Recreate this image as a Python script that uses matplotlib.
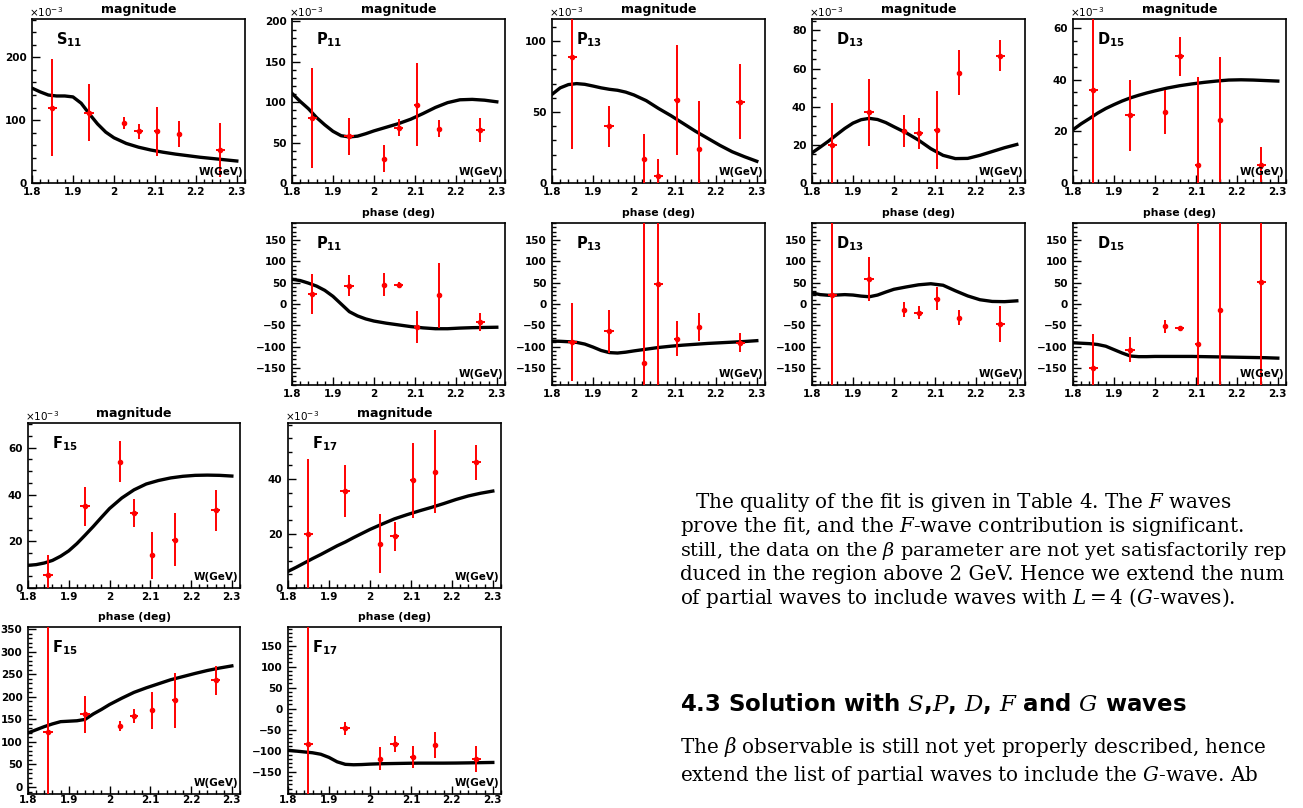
import matplotlib
matplotlib.use('Agg')
import matplotlib.pyplot as plt
from matplotlib.ticker import MultipleLocator, FixedLocator

plt.rcParams['font.family'] = ['DejaVu Sans']
plt.rcParams['mathtext.fontset'] = 'custom'
plt.rcParams['mathtext.rm'] = 'DejaVu Serif'
plt.rcParams['mathtext.it'] = 'DejaVu Serif:italic'
plt.rcParams['mathtext.bf'] = 'DejaVu Sans:bold'
plt.rcParams['mathtext.sf'] = 'DejaVu Sans'

# energies of the data points and of the fit curve samples (GeV)
w_pts = [1.85, 1.94, 2.025, 2.06, 2.105, 2.16, 2.26]
w_err = [0.012, 0.012, 0.005, 0.01, 0.006, 0.006, 0.012]
w_fit = [1.80, 1.82, 1.84, 1.86, 1.88, 1.90, 1.92, 1.94, 1.96, 1.98, 2.00,
         2.03, 2.06, 2.09, 2.12, 2.15, 2.18, 2.21, 2.24, 2.27, 2.30]

# magnitudes (x1e-3)
s11_mag = [120, 112, 96, 82, 82, 78, 52]
s11_mag_err = [77, 45, 9.5, 11.5, 39, 21, 43]
s11_mag_fit = [151, 145, 140, 138.5, 138.5, 137, 127, 110, 94, 81, 72,
               63, 57, 52.5, 49, 46, 43.5, 41, 39, 37, 35]

p11_mag = [80, 58, 30, 68.5, 97, 67, 66]
p11_mag_err = [62, 23, 17, 10.5, 51, 10.5, 15]
p11_mag_fit = [111, 101, 92, 81, 72, 64, 58.5, 57, 58, 61, 64.5,
               69, 73.5, 79, 86, 93.5, 99.5, 103, 103.5, 102.5, 100.5]

p13_mag = [89, 40, 16.7, 4.9, 58.4, 24.2, 57.2]
p13_mag_err = [65, 14.5, 18, 12, 38.5, 33.5, 26.5]
p13_mag_fit = [62.4, 67, 69.3, 70, 69.5, 68.3, 67, 66, 65.3, 64, 62,
               58, 52.5, 47.5, 42, 36.5, 31.5, 26.5, 22, 18.5, 15.3]

d13_mag = [19.8, 37, 27.2, 26, 27.7, 57.9, 66.7]
d13_mag_err = [22, 17.4, 8.3, 8, 20.4, 11.6, 8.1]
d13_mag_fit = [15.8, 18.8, 21.9, 25.3, 28.6, 31.4, 33.2, 33.9, 33.3, 31.7, 29.5,
               26.3, 22.5, 18, 14.5, 12.8, 12.9, 14.5, 16.5, 18.5, 20.2]

d15_mag = [36, 26.2, 27.5, 49, 6.8, 24.5, 7.1]
d15_mag_err = [40, 13.8, 8.4, 7.5, 34, 24.3, 6.8]
d15_mag_fit = [20.6, 22.9, 24.9, 27, 28.8, 30.3, 31.7, 32.9, 33.9, 34.8, 35.6,
               36.7, 37.6, 38.3, 38.9, 39.4, 39.8, 39.9, 39.8, 39.6, 39.4]

f15_mag = [5.7, 35, 54, 32, 14, 20.7, 33.3]
f15_mag_err = [8.3, 8.4, 8.8, 5.9, 10, 11.5, 8.7]
f15_mag_fit = [9.7, 10, 10.7, 11.8, 13.6, 15.9, 19, 22.6, 26.3, 30.2, 34,
               38.5, 42, 44.5, 46, 47.1, 47.8, 48.2, 48.3, 48.2, 47.9]

f17_mag = [19.8, 35.6, 16.3, 19, 39.6, 42.7, 46.1]
f17_mag_err = [27.4, 9.4, 10.8, 5.4, 13.8, 15.2, 6.5]
f17_mag_fit = [6.1, 7.6, 9.2, 10.8, 12.3, 13.9, 15.5, 16.9, 18.5, 20, 21.5,
               23.5, 25.4, 26.9, 28.3, 29.6, 31, 32.5, 33.8, 34.8, 35.6]

# phases (deg)
p11_ph = [23, 43, 45, 45, -54, 20, -42]
p11_ph_err = [47, 24.5, 27, 7, 37, 76, 21]
p11_ph_fit = [58, 55, 49, 42, 32, 18, 0, -18, -28, -35, -40,
              -45, -49, -53, -56, -58, -58, -56.5, -55.5, -55, -54.5]

p13_ph = [-89, -64, -138, 48, -81, -54, -91]
p13_ph_err = [92, 50, 400, 400, 42, 33, 22]
p13_ph_fit = [-87, -87.5, -88.5, -90, -94, -101, -109, -114, -115, -113, -110,
              -106, -102, -99, -96.5, -94.5, -92.5, -91, -89.5, -88, -86]

d13_ph = [20.5, 59, -13, -20, 12, -32, -47]
d13_ph_err = [400, 52, 18, 15.5, 27, 17.5, 42]
d13_ph_fit = [26, 22, 20.5, 21, 22, 21, 18.5, 17, 21, 28, 34.5,
              40, 45, 47.5, 44, 31, 19, 10, 6, 5.5, 7.4]

d15_ph = [-151, -107, -52, -57, -93, -15, 52]
d15_ph_err = [80, 30, 15, 6.5, 400, 400, 400]
d15_ph_fit = [-91, -92, -93, -95, -99, -107, -115, -122, -123.5, -123.5, -123,
              -123, -123, -123, -123.5, -124, -124.5, -125, -125.5, -126, -127]

f15_ph = [123, 161, 135, 158, 170, 192, 237]
f15_ph_err = [600, 41, 11, 15, 41, 62, 32]
f15_ph_fit = [120, 127, 134, 140, 145, 146, 147, 150, 162, 172, 183,
              197, 210, 220, 229, 238, 245, 252, 258.5, 264, 268.7]

f17_ph = [-83, -47, -119, -85, -115, -87, -120]
f17_ph_err = [400, 15.6, 26.6, 19, 27, 31, 31]
f17_ph_fit = [-99, -101, -103, -105, -108.5, -116, -126.5, -132.5, -133.5, -133, -132,
              -131, -130.5, -130, -129.6, -129.6, -129.6, -129.4, -129, -128.5, -128]

FW, FH = 1303, 808
fig = plt.figure(figsize=(FW / 100, FH / 100), dpi=100)


def ftext(x, y, s, **kw):
    fig.text(x / FW, 1 - y / FH, s, **kw)


def panel(l, t, r, b, title, name, sub, ylim, major, minor, vals, errs, fit, mag, xpad=3):
    ax = fig.add_axes([l / FW, 1 - b / FH, (r - l) / FW, (b - t) / FH])
    ax.plot(w_fit, fit, color='black', lw=2.4, zorder=3)
    ax.errorbar(w_pts, vals, yerr=errs, xerr=w_err, fmt='o', color='red',
                ms=3, elinewidth=1.4, capsize=0, zorder=4)
    ax.set_xlim(1.8, 2.32)
    ax.set_ylim(*ylim)
    ax.xaxis.set_major_locator(FixedLocator([1.8, 1.9, 2.0, 2.1, 2.2, 2.3]))
    ax.set_xticklabels(['1.8', '1.9', '2', '2.1', '2.2', '2.3'])
    ax.xaxis.set_minor_locator(MultipleLocator(0.02))
    ax.yaxis.set_major_locator(FixedLocator(major))
    ax.yaxis.set_minor_locator(MultipleLocator(minor))
    ax.tick_params(which='both', direction='in', top=False, right=False,
                   labelsize=7.5, width=1)
    ax.tick_params(which='major', length=6)
    ax.tick_params(which='minor', length=3)
    ax.tick_params(axis='y', pad=4)
    ax.tick_params(axis='x', pad=xpad)
    for lbl in ax.get_xticklabels() + ax.get_yticklabels():
        lbl.set_fontweight('bold')
    for sp in ax.spines.values():
        sp.set_linewidth(1.2)
    cx = (l + r) / 2
    ftext(cx, t - 10, title, ha='center', va='center', fontweight='bold',
          fontsize=9 if mag else 7.8)
    if mag:
        ftext(l - 3, t - 2, r'$\mathsf{\times 10^{-3}}$', ha='left', va='baseline',
              fontsize=7.5)
    ftext(l + 24, t + 21, r'$\mathbf{%s}_{\mathbf{%s}}$' % (name, sub),
          ha='left', va='center', fontsize=10.5)
    ftext(r - 2, b - 11, 'W(GeV)', ha='right', va='center', fontweight='bold',
          fontsize=7.5)
    return ax


cols = [32, 292, 552, 812, 1073]
wid = 213
r1 = (19, 183)
r2 = (223, 385)
ph_ticks = [-150, -100, -50, 0, 50, 100, 150]

panel(cols[0], r1[0], cols[0] + wid, r1[1], 'magnitude', 'S', '11', (0, 261),
      [0, 100, 200], 20, s11_mag, s11_mag_err, s11_mag_fit, True)
panel(cols[1], r1[0], cols[1] + wid, r1[1], 'magnitude', 'P', '11', (0, 203),
      [0, 50, 100, 150, 200], 10, p11_mag, p11_mag_err, p11_mag_fit, True)
panel(cols[2], r1[0], cols[2] + wid, r1[1], 'magnitude', 'P', '13', (0, 115.5),
      [0, 50, 100], 10, p13_mag, p13_mag_err, p13_mag_fit, True)
panel(cols[3], r1[0], cols[3] + wid, r1[1], 'magnitude', 'D', '13', (0, 86),
      [0, 20, 40, 60, 80], 5, d13_mag, d13_mag_err, d13_mag_fit, True)
panel(cols[4], r1[0], cols[4] + wid, r1[1], 'magnitude', 'D', '15', (0, 63.4),
      [0, 20, 40, 60], 5, d15_mag, d15_mag_err, d15_mag_fit, True)

panel(cols[1], r2[0], cols[1] + wid, r2[1], 'phase (deg)', 'P', '11', (-190, 190),
      ph_ticks, 10, p11_ph, p11_ph_err, p11_ph_fit, False)
panel(cols[2], r2[0], cols[2] + wid, r2[1], 'phase (deg)', 'P', '13', (-190, 190),
      ph_ticks, 10, p13_ph, p13_ph_err, p13_ph_fit, False)
panel(cols[3], r2[0], cols[3] + wid, r2[1], 'phase (deg)', 'D', '13', (-190, 190),
      ph_ticks, 10, d13_ph, d13_ph_err, d13_ph_fit, False)
panel(cols[4], r2[0], cols[4] + wid, r2[1], 'phase (deg)', 'D', '15', (-190, 190),
      ph_ticks, 10, d15_ph, d15_ph_err, d15_ph_fit, False)

panel(28, 423, 240, 588, 'magnitude', 'F', '15', (0, 70.6),
      [0, 20, 40, 60], 5, f15_mag, f15_mag_err, f15_mag_fit, True)
panel(288, 423, 501, 588, 'magnitude', 'F', '17', (0, 60.6),
      [0, 20, 40], 5, f17_mag, f17_mag_err, f17_mag_fit, True)
panel(28, 627, 240, 794, 'phase (deg)', 'F', '15', (-15.5, 355),
      [0, 50, 100, 150, 200, 250, 300, 350], 10, f15_ph, f15_ph_err, f15_ph_fit, False,
      xpad=1)
panel(288, 627, 501, 794, 'phase (deg)', 'F', '17', (-203, 194),
      ph_ticks, 10, f17_ph, f17_ph_err, f17_ph_fit, False, xpad=1)

# running text of the page (cut at the right edge, as on the page image)
body = dict(family='DejaVu Serif', fontsize=14.3, ha='left', va='baseline')
ftext(695, 508, r'The quality of the fit is given in Table 4. The $F$ waves', **body)
ftext(680, 532, r'prove the fit, and the $F$-wave contribution is significant.', **body)
ftext(680, 556, r'still, the data on the $\beta$ parameter are not yet satisfactorily rep',
      **dict(body, fontsize=13.9))
ftext(680, 580, r'duced in the region above 2 GeV. Hence we extend the num', **body)
ftext(680, 604, r'of partial waves to include waves with $L = 4$ ($G$-waves).', **body)
ftext(680, 711, r'4.3 Solution with $S$,$P$, $D$, $F$ and $G$ waves', fontsize=16.5,
      fontweight='bold', ha='left', va='baseline')
ftext(680, 753, r'The $\beta$ observable is still not yet properly described, hence', **body)
ftext(680, 781, r'extend the list of partial waves to include the $G$-wave. Ab', **body)

fig.savefig('out.png', dpi=100)
